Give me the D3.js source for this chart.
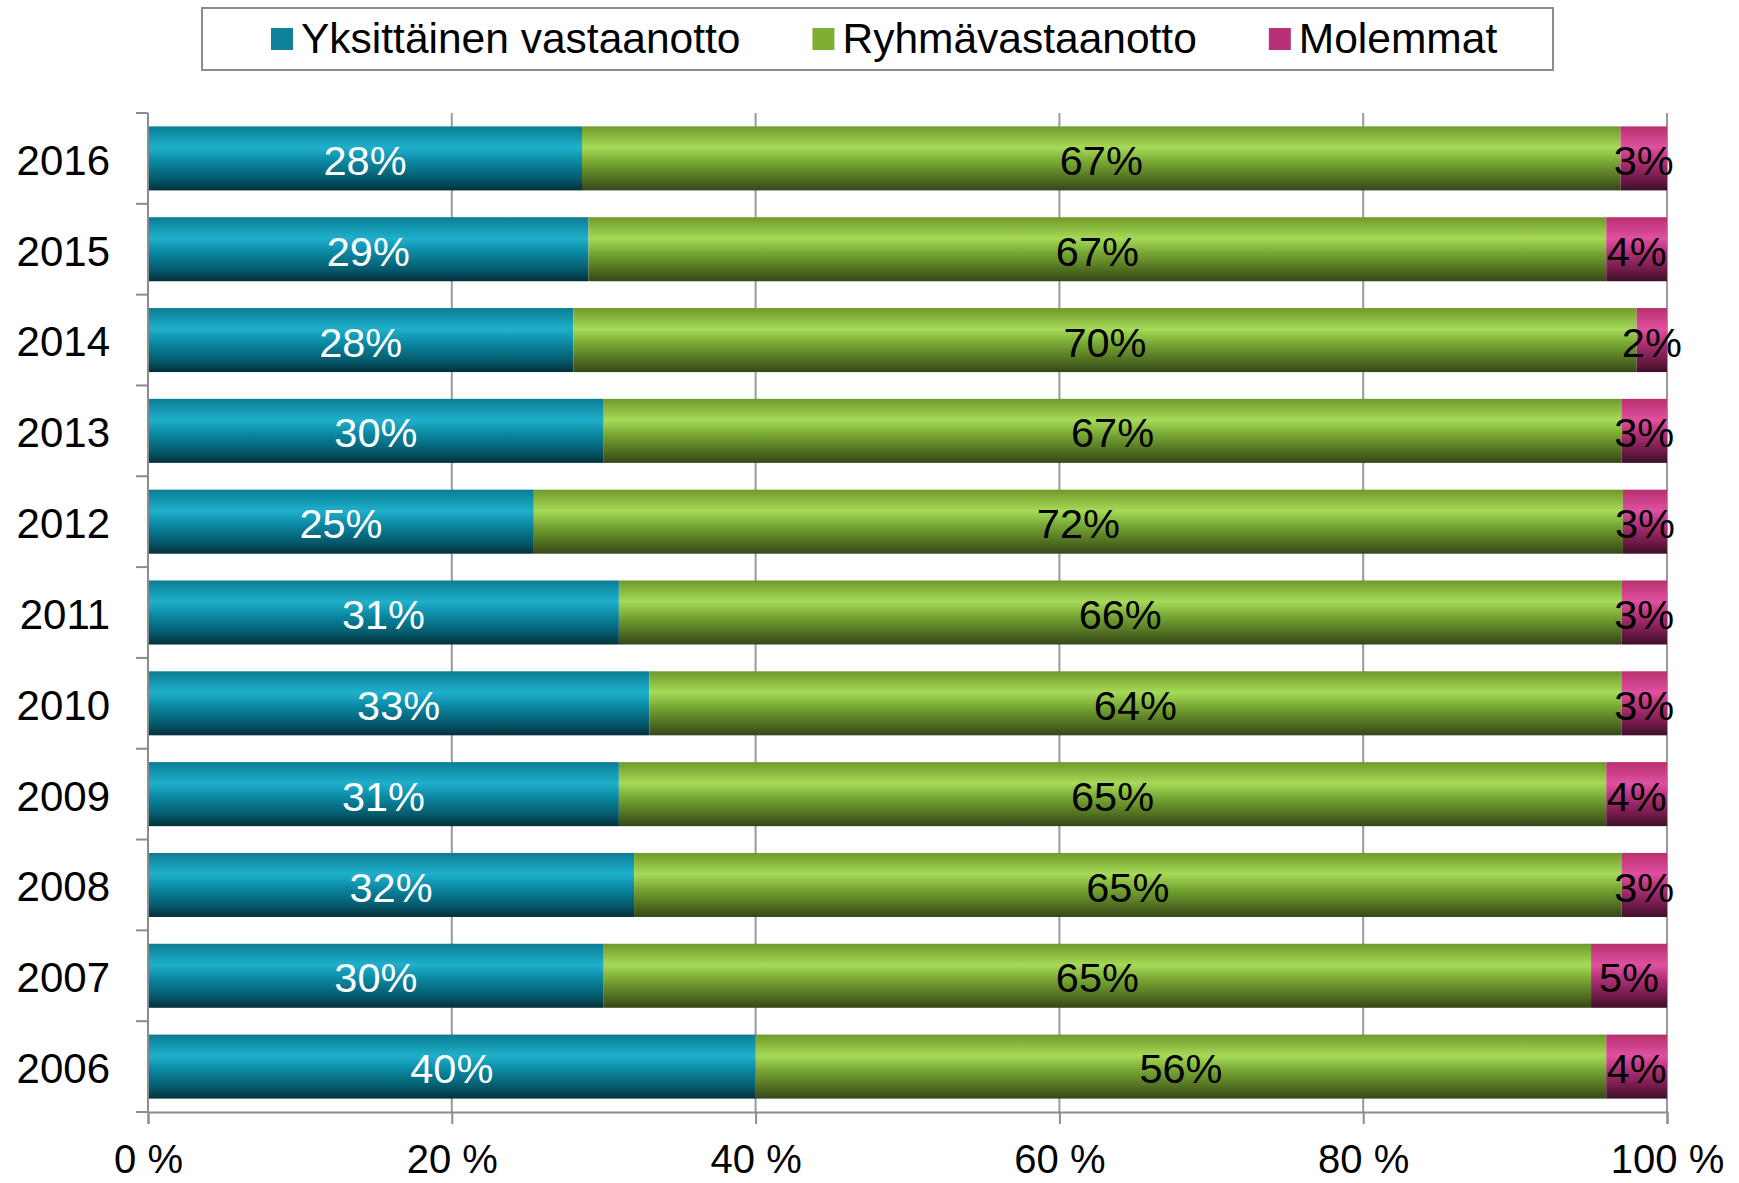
<!DOCTYPE html>
<html>
<head>
<meta charset="utf-8">
<script src="https://cdn.jsdelivr.net/npm/d3@7"></script>
<style>
  body { margin: 0; background: #fff; }
  text { font-family: "Liberation Sans", Arial, sans-serif; }
</style>
</head>
<body>
<div id="chart"></div>
<script>
// years from top to bottom
const years = ["2016", "2015", "2014", "2013", "2012", "2011", "2010", "2009", "2008", "2007", "2006"]
const seriesNames = ["Yksittäinen vastaanotto", "Ryhmävastaanotto", "Molemmat"]
const yksittainen = [28, 29, 28, 30, 25.4, 31, 33, 31, 32, 30, 40]
const ryhma = [67, 67, 70, 67, 71.7, 66, 64, 65, 65, 65, 56]
const molemmat = [3, 4, 2, 3, 2.9, 3, 3, 4, 3, 5, 4]
const xTicks = [0, 0.2, 0.4, 0.6, 0.8, 1]

const swatch = ["#0e8299", "#7fae35", "#b83078"]
const gradStops = [
    ["#0a7d94", "#1fb0cc", "#0a88a2", "#055a6c", "#03303a"],
    ["#6e9a2a", "#a6da58", "#79a935", "#506e20", "#36461a"],
    ["#b8306e", "#e050a0", "#b03078", "#701a48", "#3c1028"]
]
const labelColor = ["#fff", "#000", "#000"]

const width = 1739, height = 1183
const plot = { left: 148, right: 1667, top: 113, bottom: 1112 }

const svg = d3.select("#chart").append("svg")
    .attr("width", width)
    .attr("height", height)

const defs = svg.append("defs")
gradStops.forEach((stops, i) => {
    const g = defs.append("linearGradient")
        .attr("id", "grad" + i)
        .attr("x1", 0).attr("y1", 0).attr("x2", 0).attr("y2", 1)
    const offs = [0, 0.33, 0.55, 0.82, 1]
    stops.forEach((c, j) => {
        g.append("stop").attr("offset", offs[j]).attr("stop-color", c)
    })
})

const data = years.map((yr, i) => ({
    year: yr,
    s0: yksittainen[i],
    s1: ryhma[i],
    s2: molemmat[i]
}))

const stack = d3.stack().keys(["s0", "s1", "s2"]).offset(d3.stackOffsetExpand)
const stacked = stack(data)

const x = d3.scaleLinear().domain([0, 1]).range([plot.left, plot.right])
const y = d3.scaleBand().domain(years).range([plot.top, plot.bottom])
    .paddingInner(0.295).paddingOuter(0.1475)

// gridlines
svg.append("g")
    .selectAll("line")
    .data(xTicks.slice(1))
    .join("line")
    .attr("x1", d => x(d)).attr("x2", d => x(d))
    .attr("y1", plot.top).attr("y2", plot.bottom)
    .attr("stroke", "#9a9a9a")
    .attr("stroke-width", 2)

// bars
const layers = svg.append("g")
    .selectAll("g")
    .data(stacked)
    .join("g")
    .attr("fill", (d, i) => "url(#grad" + i + ")")

layers.selectAll("rect")
    .data(d => d)
    .join("rect")
    .attr("x", d => x(d[0]))
    .attr("width", d => x(d[1]) - x(d[0]))
    .attr("y", d => y(d.data.year))
    .attr("height", y.bandwidth())

// value labels
stacked.forEach((layer, i) => {
    svg.append("g")
        .selectAll("text")
        .data(layer)
        .join("text")
        .attr("x", d => (x(d[0]) + x(d[1])) / 2)
        .attr("y", d => y(d.data.year) + y.bandwidth() / 2)
        .attr("dy", "0.4em")
        .attr("text-anchor", "middle")
        .attr("font-size", 41.5)
        .attr("fill", labelColor[i])
        .text(d => Math.round(d.data["s" + i]) + "%")
})

// y axis
const yAxis = svg.append("g")
yAxis.append("line")
    .attr("x1", plot.left).attr("x2", plot.left)
    .attr("y1", plot.top).attr("y2", plot.bottom)
    .attr("stroke", "#8c8c8c").attr("stroke-width", 2)
yAxis.selectAll(".tick")
    .data(d3.range(years.length + 1))
    .join("line")
    .attr("x1", plot.left - 12).attr("x2", plot.left)
    .attr("y1", i => plot.top + i * y.step())
    .attr("y2", i => plot.top + i * y.step())
    .attr("stroke", "#8c8c8c").attr("stroke-width", 2)
yAxis.selectAll("text")
    .data(years)
    .join("text")
    .attr("x", 110)
    .attr("y", d => y(d) + y.bandwidth() / 2)
    .attr("dy", "0.39em")
    .attr("text-anchor", "end")
    .attr("font-size", 42)
    .attr("fill", "#000")
    .text(d => d)

// x axis
const xAxis = svg.append("g")
    .attr("transform", "translate(0," + plot.bottom + ")")
    .call(d3.axisBottom(x).tickValues(xTicks).tickSize(12).tickPadding(21)
        .tickFormat(d => Math.round(d * 100) + " %"))
xAxis.select(".domain").attr("stroke", "#8c8c8c").attr("stroke-width", 2)
xAxis.selectAll(".tick line").attr("stroke", "#8c8c8c").attr("stroke-width", 2)
xAxis.selectAll(".tick text")
    .attr("font-size", 40)
    .attr("font-family", "Liberation Sans, Arial, sans-serif")
    .attr("fill", "#000")

// legend
const legend = svg.append("g")
legend.append("rect")
    .attr("x", 202).attr("y", 8)
    .attr("width", 1351).attr("height", 62)
    .attr("fill", "#fff")
    .attr("stroke", "#8c8c8c").attr("stroke-width", 2)

let lx = 271
seriesNames.forEach((name, i) => {
    legend.append("rect")
        .attr("x", lx).attr("y", 28)
        .attr("width", 22).attr("height", 22)
        .attr("fill", swatch[i])
    const t = legend.append("text")
        .attr("x", lx + 30).attr("y", 53)
        .attr("font-size", 42.5)
        .attr("fill", "#000")
        .text(name)
    lx += 30 + t.node().getComputedTextLength() + 72
})
</script>
</body>
</html>
